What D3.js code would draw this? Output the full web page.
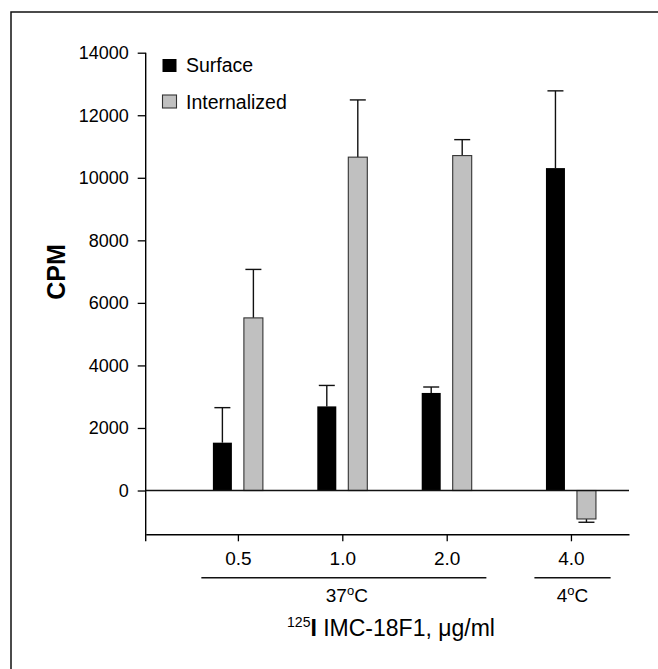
<!DOCTYPE html>
<html>
<head>
<meta charset="utf-8">
<script src="https://cdn.jsdelivr.net/npm/d3@7"></script>
<style>
  body { margin: 0; background: #fff; }
  text { font-family: "Liberation Sans", Arial, sans-serif; fill: #000; }
</style>
</head>
<body>
<script>
// values
const doses = ["0.5", "1.0", "2.0", "4.0"];
const temps = ["37", "37", "37", "4"];
const series = ["Surface", "Internalized"];
const surface = [1530, 2690, 3120, 10310];
const surfaceErr = [1120, 670, 190, 2470];
const internalized = [5520, 10660, 10710, -910];
const internalizedErr = [1550, 1830, 510, 105];
const yTicks = [0, 2000, 4000, 6000, 8000, 10000, 12000, 14000];

const W = 658, H = 669;
const svg = d3.select('body').append('svg')
    .attr('width', W)
    .attr('height', H);

// outer frame (only top/left visible in the crop)
svg.append('rect')
    .attr('x', 11).attr('y', 12)
    .attr('width', 700).attr('height', 700)
    .attr('fill', 'none')
    .attr('stroke', '#111')
    .attr('stroke-width', 1.5);

// position of each dose along x, with a small gap before the 4 C group
const groups = Array.from(new Set(temps));
const pos = doses.map((d, i) => i + groups.indexOf(temps[i]) * 0.19);

const x = d3.scaleLinear().domain([-0.883, 3.746]).range([145.7, 629]);
const y = d3.scaleLinear().domain([-1400, 14000]).range([534.3, 52.7]);

const barW = 19, off = 15.5, capW = 16;

const rows = doses.map((d, i) => [
    { s: 0, p: pos[i], v: surface[i], e: surfaceErr[i] },
    { s: 1, p: pos[i], v: internalized[i], e: internalizedErr[i] }
]).flat();

// error bars (only in the direction away from zero)
const eb = svg.append('g').attr('stroke', '#111').attr('stroke-width', 1.4);
rows.forEach(d => {
    const cx = x(d.p) + (d.s === 0 ? -off : off);
    const end = d.v >= 0 ? d.v + d.e : d.v - d.e;
    eb.append('line').attr('x1', cx).attr('x2', cx).attr('y1', y(d.v)).attr('y2', y(end));
    eb.append('line').attr('x1', cx - capW / 2).attr('x2', cx + capW / 2).attr('y1', y(end)).attr('y2', y(end));
});

// bars
svg.selectAll('.bar')
    .data(rows)
    .enter().append('rect')
    .attr('class', 'bar')
    .attr('x', d => x(d.p) + (d.s === 0 ? -off : off) - barW / 2)
    .attr('width', barW)
    .attr('y', d => y(Math.max(0, d.v)))
    .attr('height', d => Math.abs(y(d.v) - y(0)))
    .attr('fill', d => d.s === 0 ? '#000' : '#c0c0c0')
    .attr('stroke', d => d.s === 0 ? 'none' : '#333')
    .attr('stroke-width', 1.1);

// zero line
svg.append('line')
    .attr('x1', x.range()[0]).attr('x2', x.range()[1])
    .attr('y1', y(0)).attr('y2', y(0))
    .attr('stroke', '#111').attr('stroke-width', 1.4);

// y axis
const yAxis = svg.append('g')
    .attr('transform', `translate(${x.range()[0]},0)`)
    .call(d3.axisLeft(y).tickValues(yTicks).tickSize(8).tickSizeOuter(0).tickPadding(9).tickFormat(d3.format('d')));
yAxis.selectAll('text').attr('font-size', 18).attr('font-family', '"Liberation Sans", Arial, sans-serif');
yAxis.select('.domain').attr('stroke-width', 1.4)
    .attr('d', `M0,${y.range()[1]}V${y.range()[0] + 7}`);
yAxis.selectAll('.tick line').attr('stroke-width', 1.3);

// x axis
const xAxis = svg.append('g')
    .attr('transform', `translate(0,${y.range()[0]})`)
    .call(d3.axisBottom(x).tickValues(pos).tickSize(7).tickSizeOuter(0).tickPadding(10)
        .tickFormat((d, i) => doses[i]));
xAxis.selectAll('text').attr('font-size', 19).attr('font-family', '"Liberation Sans", Arial, sans-serif');
xAxis.select('.domain').attr('stroke-width', 1.4);
xAxis.selectAll('.tick line').attr('stroke-width', 1.3);

// temperature group lines and labels
groups.forEach(g => {
    const ps = pos.filter((p, i) => temps[i] === g);
    const x1 = x(d3.min(ps) - 0.35), x2 = x(d3.max(ps) + 0.38);
    svg.append('line')
        .attr('x1', x1).attr('x2', x2)
        .attr('y1', 577.7).attr('y2', 577.7)
        .attr('stroke', '#111').attr('stroke-width', 1.4);
    const t = svg.append('text')
        .attr('x', (x1 + x2) / 2 + (g === '37' ? 3 : 0)).attr('y', 601.7)
        .attr('text-anchor', 'middle')
        .attr('font-size', 19);
    t.append('tspan').text(g);
    t.append('tspan').attr('font-size', 13).attr('dy', -7).text('o');
    t.append('tspan').attr('dy', 7).text('C');
});

// x title
const xt = svg.append('text')
    .attr('x', 391).attr('y', 636)
    .attr('text-anchor', 'middle')
    .attr('font-size', 23);
xt.append('tspan').attr('font-size', 14).attr('dy', -9).text('125');
xt.append('tspan').attr('dy', 9).attr('font-weight', 'bold').text('I');
xt.append('tspan').text(' IMC-18F1, \u03bcg/ml');

// y title
svg.append('text')
    .attr('transform', 'translate(65,272) rotate(-90)')
    .attr('text-anchor', 'middle')
    .attr('font-size', 25)
    .attr('font-weight', 'bold')
    .text('CPM');

// legend
const leg = svg.append('g');
series.forEach((s, i) => {
    leg.append('rect')
        .attr('x', 162.5).attr('y', 59 + i * 36)
        .attr('width', 14).attr('height', 13)
        .attr('fill', i === 0 ? '#000' : '#c0c0c0')
        .attr('stroke', i === 0 ? 'none' : '#333')
        .attr('stroke-width', 1.1);
    leg.append('text')
        .attr('x', 186).attr('y', 72 + i * 36.5)
        .attr('font-size', 19.5)
        .text(s);
});
</script>
</body>
</html>
